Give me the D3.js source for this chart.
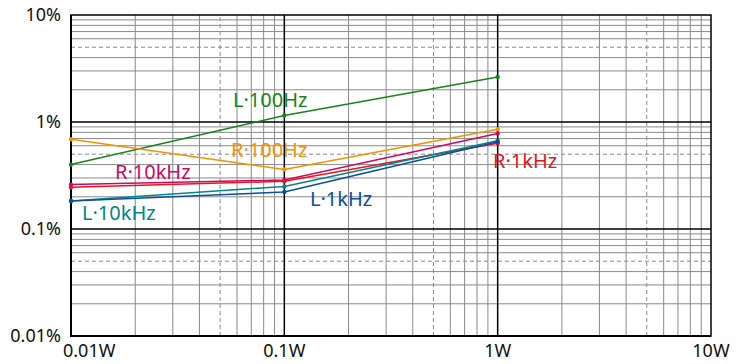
<!DOCTYPE html>
<html>
<head>
<meta charset="utf-8">
<script src="https://cdn.jsdelivr.net/npm/d3@7"></script>
<style>
  body { margin: 0; background: #fff; }
  text { font-family: "Noto Sans", "Open Sans", sans-serif; }
</style>
</head>
<body>
<svg></svg>
<script>
// power points (W)
var powers = [0.01, 0.1, 1];

// distortion values (%)
var L100Hz = [0.40, 1.15, 2.63];
var R100Hz = [0.69, 0.36, 0.855];
var R10kHz = [0.26, 0.287, 0.78];
var R1kHz = [0.245, 0.279, 0.632];
var L10kHz = [0.183, 0.25, 0.669];
var L1kHz = [0.183, 0.222, 0.655];

var xTicks = [0.01, 0.1, 1, 10];
var xTickLabels = ["0.01W", "0.1W", "1W", "10W"];
var yTicks = [0.01, 0.1, 1, 10];
var yTickLabels = ["0.01%", "0.1%", "1%", "10%"];

var series = [
  { name: "L·100Hz", values: L100Hz, color: "#16861a", lx: 233, ly: 100 },
  { name: "R·100Hz", values: R100Hz, color: "#f39200", lx: 231, ly: 150 },
  { name: "R·10kHz", values: R10kHz, color: "#cc0a5f", lx: 115, ly: 172 },
  { name: "R·1kHz", values: R1kHz, color: "#e8141e", lx: 493, ly: 161 },
  { name: "L·10kHz", values: L10kHz, color: "#00878a", lx: 82, ly: 213 },
  { name: "L·1kHz", values: L1kHz, color: "#0a4f9f", lx: 310, ly: 199 }
];

var width = 740, height = 364;
var svg = d3.select("svg").attr("width", width).attr("height", height);

var x = d3.scaleLog().domain([0.01, 10]).range([71, 711]);
var y = d3.scaleLog().domain([0.01, 10]).range([336, 15]);

// minor grid
var minor = [];
[0.01, 0.1, 1].forEach(function(d) {
  for (var k = 2; k <= 9; k++) minor.push({ v: d * k, dash: k == 5 });
});

var grid = svg.append("g");
grid.selectAll("line.vx").data(minor).enter().append("line")
  .attr("x1", function(d) { return x(d.v); })
  .attr("x2", function(d) { return x(d.v); })
  .attr("y1", y(0.01)).attr("y2", y(10))
  .attr("stroke", "#8a8a8a").attr("stroke-width", 1)
  .attr("stroke-dasharray", function(d) { return d.dash ? "4,3" : null; });
grid.selectAll("line.hy").data(minor).enter().append("line")
  .attr("y1", function(d) { return y(d.v); })
  .attr("y2", function(d) { return y(d.v); })
  .attr("x1", x(0.01)).attr("x2", x(10))
  .attr("stroke", "#8a8a8a").attr("stroke-width", 1)
  .attr("stroke-dasharray", function(d) { return d.dash ? "4,3" : null; });

// major grid
grid.selectAll("line.mx").data([0.1, 1]).enter().append("line")
  .attr("x1", function(d) { return x(d); })
  .attr("x2", function(d) { return x(d); })
  .attr("y1", y(0.01)).attr("y2", y(10))
  .attr("stroke", "#000").attr("stroke-width", 1.5);
grid.selectAll("line.my").data([0.1, 1]).enter().append("line")
  .attr("y1", function(d) { return y(d); })
  .attr("y2", function(d) { return y(d); })
  .attr("x1", x(0.01)).attr("x2", x(10))
  .attr("stroke", "#000").attr("stroke-width", 1.5);

// frame
svg.append("rect")
  .attr("x", x(0.01)).attr("y", y(10))
  .attr("width", x(10) - x(0.01)).attr("height", y(0.01) - y(10))
  .attr("fill", "none").attr("stroke", "#000").attr("stroke-width", 1.5);
svg.append("line").attr("x1", x(0.01)).attr("x2", x(0.01))
  .attr("y1", y(10)).attr("y2", y(0.01) + 1)
  .attr("stroke", "#000").attr("stroke-width", 2);
svg.append("line").attr("x1", x(0.01) - 1).attr("x2", x(10))
  .attr("y1", y(0.01)).attr("y2", y(0.01))
  .attr("stroke", "#000").attr("stroke-width", 2);

// tick labels
svg.selectAll("text.yt").data(yTicks).enter().append("text")
  .attr("x", 61)
  .attr("y", function(d) { return y(d); })
  .attr("dy", "0.35em")
  .attr("text-anchor", "end")
  .attr("font-size", 18)
  .attr("fill", "#111")
  .text(function(d, i) { return yTickLabels[i]; });

svg.selectAll("text.xt").data(xTicks).enter().append("text")
  .attr("x", function(d, i) { return i == 0 ? 63 : x(d); })
  .attr("y", 357)
  .attr("text-anchor", function(d, i) { return i == 0 ? "start" : "middle"; })
  .attr("font-size", 18)
  .attr("fill", "#111")
  .text(function(d, i) { return xTickLabels[i]; });

// series lines
var line = d3.line()
  .x(function(d, i) { return x(powers[i]); })
  .y(function(d) { return y(d); });

var sg = svg.append("g");
series.forEach(function(s) {
  sg.append("path")
    .attr("d", line(s.values))
    .attr("fill", "none")
    .attr("stroke", s.color)
    .attr("stroke-width", 1.5);
  sg.selectAll(null).data(s.values).enter().append("circle")
    .attr("cx", function(d, i) { return x(powers[i]); })
    .attr("cy", function(d) { return y(d); })
    .attr("r", 2.2)
    .attr("fill", s.color);
  svg.append("text")
    .attr("x", s.lx)
    .attr("y", s.ly)
    .attr("dy", "0.35em")
    .attr("font-size", 20)
    .attr("fill", s.color)
    .text(s.name);
});
</script>
</body>
</html>
